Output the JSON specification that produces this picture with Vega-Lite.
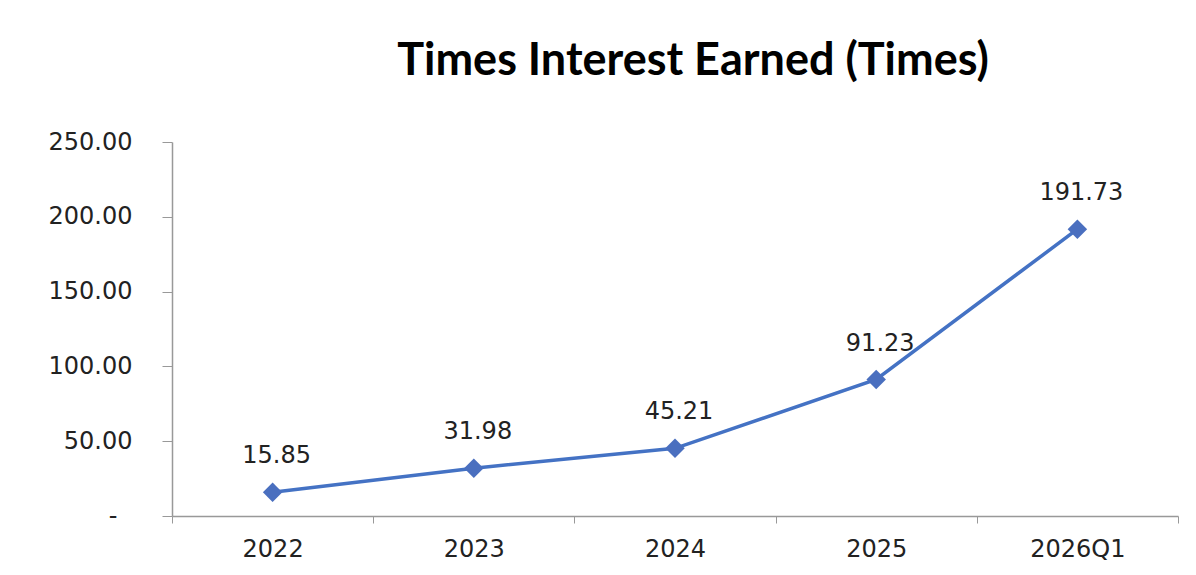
{
  "$schema": "https://vega.github.io/schema/vega-lite/v6.json",
  "width": 1006,
  "height": 374,
  "autosize": {"type": "none"},
  "padding": {"left": 172, "top": 142, "right": 18, "bottom": 59},
  "background": "white",
  "config": {"view": {"stroke": null}},
  "title": {
    "text": "Times Interest Earned (Times)",
    "font": "Lato",
    "fontWeight": "bold",
    "fontSize": 45,
    "color": "black",
    "anchor": "middle",
    "frame": "group",
    "baseline": "alphabetic",
    "offset": 10,
    "dx": 18
  },
  "data": {
    "values": [
      {"period": "2022", "value": 15.85},
      {"period": "2023", "value": 31.98},
      {"period": "2024", "value": 45.21},
      {"period": "2025", "value": 91.23},
      {"period": "2026Q1", "value": 191.73}
    ]
  },
  "encoding": {
    "x": {
      "field": "period",
      "type": "ordinal",
      "sort": null,
      "scale": {"type": "band", "paddingInner": 0, "paddingOuter": 0},
      "axis": {
        "title": null,
        "labelAngle": 0,
        "tickBand": "extent",
        "tickSize": 7,
        "tickColor": "#999999",
        "domainColor": "#999999",
        "domainWidth": 1.5,
        "labelFont": "DejaVu Sans",
        "labelFontSize": 24,
        "labelColor": "#222222",
        "labelPadding": 14
      }
    },
    "y": {
      "field": "value",
      "type": "quantitative",
      "scale": {"domain": [0, 250], "nice": false},
      "axis": {
        "title": null,
        "grid": false,
        "values": [0, 50, 100, 150, 200, 250],
        "labelExpr": "datum.value == 0 ? '-' : format(datum.value, '.2f')",
        "tickSize": 10,
        "tickColor": "#999999",
        "domainColor": "#999999",
        "domainWidth": 1.5,
        "labelFont": "DejaVu Sans",
        "labelFontSize": 24,
        "labelColor": "#222222",
        "labelPadding": {"condition": {"test": "datum.value == 0", "value": 45}, "value": 30}
      }
    }
  },
  "layer": [
    {
      "mark": {"type": "line", "color": "#4472C4", "strokeWidth": 3.5}
    },
    {
      "mark": {"type": "point", "shape": "diamond", "filled": true, "size": 380, "color": "#4A6FBF", "opacity": 1}
    },
    {
      "mark": {"type": "text", "font": "DejaVu Sans", "fontSize": 24, "color": "#222222", "baseline": "alphabetic", "dx": 4, "dy": -29},
      "encoding": {"text": {"field": "value", "type": "quantitative", "format": ".2f"}}
    }
  ]
}
